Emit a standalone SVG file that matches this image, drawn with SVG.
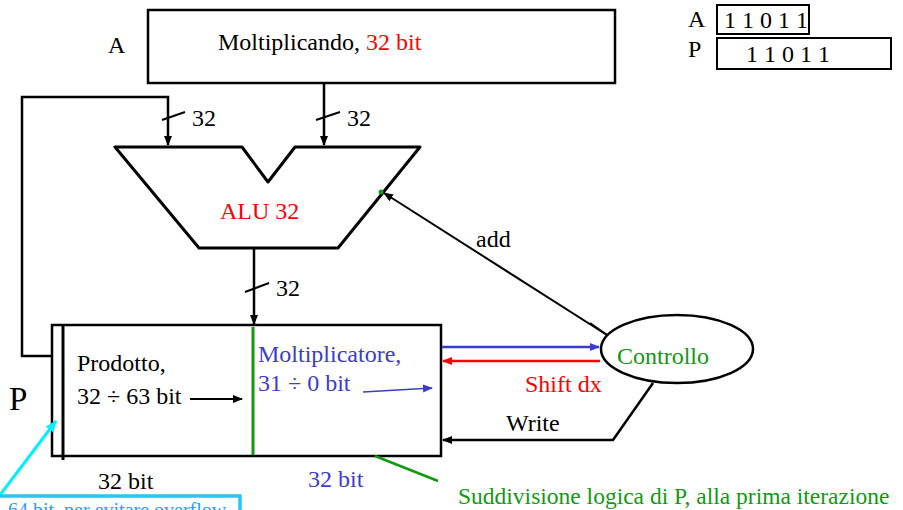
<svg xmlns="http://www.w3.org/2000/svg" width="903" height="510" viewBox="0 0 903 510">
  <defs>
    <marker id="ah" viewBox="0 0 10 10" refX="9" refY="5" markerWidth="10" markerHeight="10" markerUnits="userSpaceOnUse" orient="auto">
      <path d="M0,1 L10,5 L0,9 Z" fill="#000"/>
    </marker>
    <marker id="ahBlue" viewBox="0 0 10 10" refX="9" refY="5" markerWidth="10" markerHeight="10" markerUnits="userSpaceOnUse" orient="auto">
      <path d="M0,1 L10,5 L0,9 Z" fill="#3b3bd0"/>
    </marker>
    <marker id="ahRed" viewBox="0 0 10 10" refX="9" refY="5" markerWidth="10" markerHeight="10" markerUnits="userSpaceOnUse" orient="auto">
      <path d="M0,1 L10,5 L0,9 Z" fill="#ff0000"/>
    </marker>
    <marker id="ahCyan" viewBox="0 0 10 10" refX="9" refY="5" markerWidth="12" markerHeight="12" markerUnits="userSpaceOnUse" orient="auto">
      <path d="M0,1 L10,5 L0,9 Z" fill="#00f0ff"/>
    </marker>
  </defs>
  <style>
    text { font-family: "Liberation Serif", "DejaVu Serif", "Times New Roman", serif; font-size: 24px; fill: #000; }
    text.big { font-size: 33px; }
    text.note { font-size: 23.5px; }
    text.small { font-size: 20px; }
    text.blue, tspan.blue { fill: #3b3bd0; }
    text.red, tspan.red { fill: #ff0000; }
    text.green { fill: #119911; }
    text.cyan { fill: #2b9cf2; }
    .box { fill: #fff; stroke: #000; stroke-width: 2.5; }
    .wire { fill: none; stroke: #000; stroke-width: 2.5; }
    .thin { fill: none; stroke: #000; stroke-width: 2; }
  </style>

  <rect width="903" height="510" fill="#fff"/>

  <!-- Multiplicand register -->
  <g id="moltiplicando">
    <rect class="box" x="148" y="10" width="467" height="73"/>
    <text x="218" y="50">Moltiplicando, <tspan class="red">32 bit</tspan></text>
    <text x="108" y="53">A</text>
  </g>

  <!-- Example register contents -->
  <g id="esempio">
    <text x="688" y="27">A</text>
    <rect x="717" y="5" width="92" height="29" fill="none" stroke="#000" stroke-width="2"/>
    <text x="724" y="28">1 1 0 1 1</text>
    <text x="688" y="57">P</text>
    <rect x="717" y="38" width="174" height="31" fill="none" stroke="#000" stroke-width="2"/>
    <text x="746" y="62">1 1 0 1 1</text>
  </g>

  <!-- ALU -->
  <g id="alu">
    <polygon points="115,147 242,147 268,182 295,147 420,147 338,248 199,248" fill="#fff" stroke="#000" stroke-width="3" stroke-linejoin="round"/>
    <circle cx="381" cy="192" r="2.5" fill="#119911"/>
    <text x="220" y="219" class="red">ALU 32</text>
  </g>

  <!-- Product register -->
  <g id="prodotto">
    <rect class="box" x="52" y="325" width="389" height="131"/>
    <line x1="63" y1="325" x2="63" y2="460" stroke="#000" stroke-width="3"/>
    <line x1="253" y1="327" x2="253" y2="455" stroke="#119911" stroke-width="3"/>
    <text x="77" y="371">Prodotto,</text>
    <text x="77" y="404">32 ÷ 63 bit</text>
    <line x1="190" y1="399" x2="242" y2="399" class="thin" marker-end="url(#ah)"/>
    <text x="258" y="362" class="blue">Moltiplicatore,</text>
    <text x="258" y="391" class="blue">31 ÷ 0 bit</text>
    <line x1="363" y1="392" x2="432" y2="388" stroke="#3b3bd0" stroke-width="1.5" marker-end="url(#ahBlue)"/>
    <text x="9" y="410" class="big">P</text>
    <text x="98" y="489">32 bit</text>
    <text x="308" y="487" class="blue">32 bit</text>
  </g>

  <!-- Control unit -->
  <g id="controllo">
    <ellipse cx="677" cy="349" rx="76" ry="34" fill="#fff" stroke="#000" stroke-width="2.5"/>
    <text x="617" y="364" class="green">Controllo</text>
  </g>

  <!-- Connectors -->
  <g id="connettori">
    <!-- feedback from P high half to ALU left input -->
    <polyline class="wire" points="52,356 22,356 22,97 168,97 168,145" marker-end="url(#ah)"/>
    <line x1="162" y1="120" x2="185" y2="112" stroke="#000" stroke-width="2"/>
    <text x="192" y="126">32</text>
    <!-- multiplicand to ALU right input -->
    <line class="wire" x1="324" y1="83" x2="324" y2="145" marker-end="url(#ah)"/>
    <line x1="316" y1="120" x2="340" y2="112" stroke="#000" stroke-width="2"/>
    <text x="347" y="126">32</text>
    <!-- ALU result to P -->
    <line class="wire" x1="254" y1="249" x2="254" y2="324" marker-end="url(#ah)"/>
    <line x1="245" y1="292" x2="269" y2="283" stroke="#000" stroke-width="2"/>
    <text x="276" y="296">32</text>
    <!-- add -->
    <line class="thin" x1="607" y1="335" x2="384" y2="193" marker-end="url(#ah)"/>
    <line class="thin" x1="590" y1="323" x2="607" y2="335"/>
    <text x="476" y="247">add</text>
    <!-- multiplier bit to control -->
    <line x1="442" y1="347" x2="599" y2="347" stroke="#3b3bd0" stroke-width="2.5" marker-end="url(#ahBlue)"/>
    <!-- shift right -->
    <line x1="600" y1="361" x2="443" y2="361" stroke="#ff0000" stroke-width="2.5" marker-end="url(#ahRed)"/>
    <text x="525" y="392" class="red">Shift dx</text>
    <!-- write -->
    <polyline class="wire" points="653,383 613,440 443,440" marker-end="url(#ah)"/>
    <text x="506" y="431">Write</text>
    <!-- logical split note -->
    <line x1="375" y1="456" x2="438" y2="481" stroke="#119911" stroke-width="2.5"/>
    <text x="458" y="504" class="note green">Suddivisione logica di P, alla prima iterazione</text>
    <!-- cyan callout -->
    <line x1="0" y1="495" x2="56" y2="421" stroke="#00f0ff" stroke-width="3" marker-end="url(#ahCyan)"/>
    <polyline points="0,496 240,496 240,512" fill="none" stroke="#2bc4f2" stroke-width="3.5"/>
    <text x="8" y="517" class="small cyan">64 bit, per evitare overflow</text>
  </g>
</svg>
